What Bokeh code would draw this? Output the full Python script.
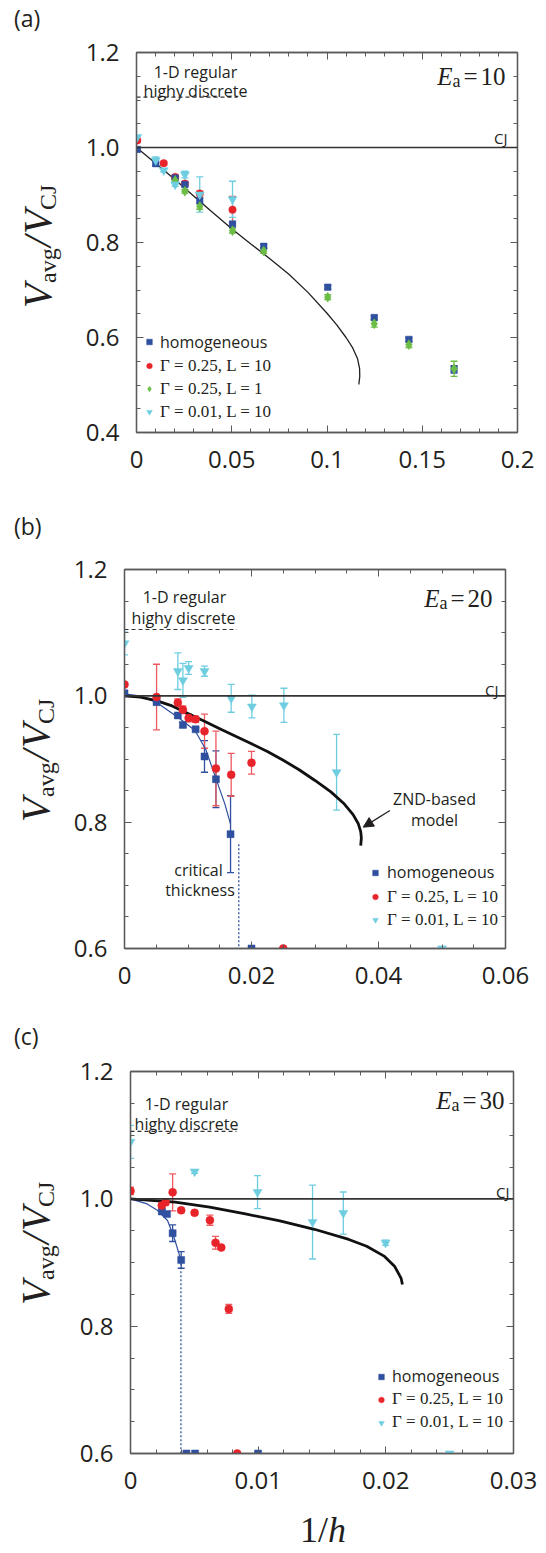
from bokeh.plotting import figure
from bokeh.layouts import column, row
from bokeh.models import (ColumnDataSource, Whisker, TeeHead, Label, Legend, LegendItem,
                          LinearAxis, FixedTicker, CustomJSTickFormatter, Range1d,
                          Arrow, NormalHead, Span, Div)
from bokeh.embed import file_html
from bokeh.resources import INLINE

# ---------------- panel (a): Ea = 10 ----------------
a_hom_x = [0.0004, 0.0101, 0.0203, 0.0254, 0.0332, 0.0504, 0.0668, 0.1004, 0.1248, 0.143, 0.1667]
a_hom_y = [0.996, 0.966, 0.936, 0.922, 0.888, 0.839, 0.792, 0.706, 0.642, 0.596, 0.533]
a_hom_e = [0.003, 0.004, 0.003, 0.003, 0.006, 0.004, 0.004, 0.004, 0.004, 0.004, 0.008]
a_red_x = [0.0004, 0.0143, 0.0203, 0.0254, 0.0332, 0.0504]
a_red_y = [1.015, 0.967, 0.938, 0.924, 0.903, 0.869]
a_red_e = [0.004, 0.004, 0.004, 0.004, 0.005, 0.028]
a_grn_x = [0.0203, 0.0254, 0.0332, 0.0504, 0.0668, 0.1004, 0.1248, 0.143, 0.1667]
a_grn_y = [0.9305, 0.908, 0.876, 0.825, 0.782, 0.685, 0.629, 0.585, 0.534]
a_grn_e = [0.004, 0.004, 0.006, 0.005, 0.005, 0.005, 0.007, 0.006, 0.016]
a_cyn_x = [0.0004, 0.0101, 0.0143, 0.0203, 0.0254, 0.0332, 0.0504]
a_cyn_y = [1.022, 0.973, 0.952, 0.922, 0.943, 0.901, 0.891]
a_cyn_e = [0.003, 0.007, 0.003, 0.004, 0.007, 0.037, 0.038]
a_znd_x = [0.0, 0.01, 0.02, 0.03, 0.04, 0.05, 0.06, 0.07, 0.08, 0.09, 0.1, 0.105, 0.11,
           0.1135, 0.116, 0.1171, 0.1172, 0.1167]
a_znd_y = [1.0, 0.967, 0.933, 0.898, 0.863, 0.829, 0.797, 0.766, 0.733, 0.695, 0.651, 0.627, 0.600,
           0.578, 0.556, 0.535, 0.518, 0.501]
a_disc_x = [0.0, 0.053]
a_disc_y = [1.106, 1.106]

# ---------------- panel (b): Ea = 20 ----------------
b_hom_x = [0.0, 0.00505, 0.0084, 0.0092, 0.0112, 0.0126, 0.0144, 0.0167, 0.02]
b_hom_y = [1.004, 0.990, 0.969, 0.954, 0.947, 0.904, 0.868, 0.781, 0.6]
b_hom_e = [0.002, 0.003, 0.003, 0.004, 0.003, 0.025, 0.045, 0.061, 0.0]
b_red_x = [0.0, 0.00505, 0.0084, 0.0092, 0.0101, 0.0112, 0.0126, 0.0144, 0.0168, 0.0200, 0.025]
b_red_y = [1.018, 0.998, 0.989, 0.978, 0.965, 0.963, 0.944, 0.885, 0.875, 0.894, 0.6]
b_red_e = [0.003, 0.052, 0.006, 0.006, 0.006, 0.005, 0.027, 0.059, 0.034, 0.018, 0.0]
b_cyn_x = [0.0, 0.0084, 0.0092, 0.0101, 0.0126, 0.0168, 0.02006, 0.0251, 0.0334, 0.05]
b_cyn_y = [1.083, 1.039, 1.0245, 1.044, 1.039, 0.996, 0.983, 0.985, 0.879, 0.6]
b_cyn_e = [0.018, 0.029, 0.027, 0.01, 0.008, 0.022, 0.018, 0.027, 0.06, 0.0]
b_fit_x = [0.0, 0.0023, 0.005, 0.0084, 0.0111, 0.0128, 0.0144, 0.0158, 0.0167]
b_fit_y = [1.003, 1.0, 0.99, 0.966, 0.945, 0.915, 0.869, 0.829, 0.797]
b_crit_x = [0.018, 0.018]
b_crit_y = [0.765, 0.6]
b_znd_x = [0.0, 0.0025, 0.005, 0.0075, 0.01, 0.0125, 0.015, 0.0175, 0.02, 0.0225, 0.025, 0.0275,
           0.03, 0.0325, 0.0345, 0.036, 0.0368, 0.0372, 0.0373, 0.0372]
b_znd_y = [1.0, 0.998, 0.9925, 0.984, 0.972, 0.960, 0.948, 0.936, 0.924, 0.912, 0.898, 0.883,
           0.866, 0.848, 0.830, 0.812, 0.798, 0.785, 0.775, 0.763]
b_disc_x = [0.0, 0.0177]
b_disc_y = [1.105, 1.105]
b_arrow = [0.0418, 0.8184, 0.0376, 0.7921]   # tail x, tail y, head x, head y

# ---------------- panel (c): Ea = 30 ----------------
c_hom_x = [0.00246, 0.00285, 0.0033, 0.00397, 0.00438, 0.00506, 0.00999]
c_hom_y = [0.980, 0.976, 0.946, 0.904, 0.6, 0.6, 0.6]
c_hom_e = [0.003, 0.003, 0.013, 0.013, 0.0, 0.0, 0.0]
c_red_x = [0.0, 0.00245, 0.00275, 0.0033, 0.00397, 0.00502, 0.00622, 0.00666, 0.00711, 0.0077, 0.00836]
c_red_y = [1.0125, 0.9895, 0.9945, 1.0102, 0.982, 0.978, 0.9665, 0.931, 0.9235, 0.827, 0.6]
c_red_e = [0.006, 0.003, 0.004, 0.029, 0.003, 0.003, 0.008, 0.01, 0.003, 0.007, 0.0]
c_cyn_x = [0.0, 0.00502, 0.00995, 0.01426, 0.01667, 0.01998, 0.025]
c_cyn_y = [1.0895, 1.0429, 1.0106, 0.9635, 0.9777, 0.931, 0.6]
c_cyn_e = [0.026, 0.003, 0.026, 0.058, 0.033, 0.004, 0.0]
c_fit_x = [0.0, 0.0013, 0.0021, 0.0029, 0.0034, 0.0038, 0.00395]
c_fit_y = [1.0, 0.992, 0.982, 0.966, 0.94, 0.914, 0.899]
c_crit_x = [0.00395, 0.00395]
c_crit_y = [0.899, 0.6]
c_znd_x = [0.0, 0.0035, 0.0062, 0.009, 0.0117, 0.0144, 0.0171, 0.0185, 0.0199, 0.0207, 0.0212, 0.0213]
c_znd_y = [1.0, 0.9947, 0.9869, 0.9762, 0.9655, 0.9522, 0.9362, 0.9256, 0.9096, 0.8936, 0.875, 0.8654]
c_disc_x = [0.0, 0.0083]
c_disc_y = [1.106, 1.106]

CJ = 1.0

# ticks
a_xmaj = [0, 0.05, 0.1, 0.15, 0.2]
a_xmin = [i * 0.01 for i in range(21)]
a_ymaj = [0.4, 0.6, 0.8, 1.0, 1.2]
a_ymin = [0.4 + i * 0.05 for i in range(17)]
b_xmaj = [0, 0.02, 0.04, 0.06]
b_xmin = [i * 0.005 for i in range(13)]
bc_ymaj = [0.6, 0.8, 1.0, 1.2]
bc_ymin = [0.6 + i * 0.05 for i in range(13)]
c_xmaj = [0, 0.01, 0.02, 0.03]
c_xmin = [i * 0.002 for i in range(16)]

LEG_HOM = "homogeneous"
LEG_R = "Γ = 0.25, L = 10"
LEG_G = "Γ = 0.25, L = 1"
LEG_C = "Γ = 0.01, L = 10"

# ---------------- styling ----------------
BLUE = "#2f4f9f"
RED = "#e8242b"
RED_ERR = "#ee5a60"
GREEN = "#6bbd45"
CYAN = "#6fcde0"
INK = "#231f20"
AXIS = "#5a5a5a"
SANS = "Open Sans"
SERIF = "Liberation Serif"
FIG_L = 60      # left border inside each figure
FIG_R = 29      # right border inside each figure

W_REG = {'.': .25, ',': .25, ' ': .25, '=': .564, 'a': .444, 'v': .5, 'g': .5,
         'C': .667, 'J': .389, '/': .278, 'h': .5}
W_IT = {'V': .611, 'E': .611, 'h': .5, '/': .278}


def adv(text, size, style):
    tbl = W_IT if style == "italic" else W_REG
    return sum(tbl.get(c, 0.5) for c in text) * size


def to_data(G, px, py):
    x = G['x0'] + (px - G['L']) / (G['R'] - G['L']) * (G['x1'] - G['x0'])
    y = G['y1'] - (py - G['T']) / (G['B'] - G['T']) * (G['y1'] - G['y0'])
    return x, y


def add_text(p, G, px, py, text, font=SANS, size=16, style="normal", align="left"):
    x, y = to_data(G, px, py)
    p.add_layout(Label(x=x, y=y, text=text, text_font=font, text_font_size=f"{size}px",
                       text_font_style=style, text_color=INK, text_align=align,
                       text_baseline="alphabetic"))


def add_rich(p, G, px, py, pieces, align="left"):
    widths = [adv(t, s, st) + g for (t, f, s, st, sh, g) in pieces]
    total = sum(widths)
    pos = px - total if align == "right" else px
    for (t, f, s, st, sh, g), w in zip(pieces, widths):
        add_text(p, G, pos, py + sh, t, f, s, st, "left")
        pos += w


def style_axis(ax):
    ax.axis_line_color = AXIS
    ax.axis_line_width = 1.3
    ax.major_tick_line_color = AXIS
    ax.major_tick_in = 7
    ax.major_tick_out = 0
    ax.minor_tick_line_color = AXIS
    ax.minor_tick_in = 4
    ax.minor_tick_out = 0
    ax.major_label_text_font = SANS
    ax.major_label_text_font_size = "24px"
    ax.major_label_text_color = INK


def make_fig(G, xmaj, xmin, ymaj, ymin):
    fw = G['R'] - G['L']
    p = figure(width=FIG_L + fw + FIG_R, height=G['H'], x_range=Range1d(G['x0'], G['x1']),
               y_range=Range1d(G['y0'], G['y1']), output_backend="svg", toolbar_location=None,
               min_border_left=FIG_L, min_border_right=FIG_R,
               min_border_top=G['T'], min_border_bottom=G['H'] - G['B'],
               background_fill_color="white", border_fill_color="white")
    try:
        p.frame_align = False
    except Exception:
        pass
    p.grid.visible = False
    p.outline_line_color = AXIS
    p.outline_line_width = 1.3
    xt = FixedTicker(ticks=xmaj, minor_ticks=xmin)
    yt = FixedTicker(ticks=ymaj, minor_ticks=ymin)
    p.xaxis.ticker = xt
    p.yaxis.ticker = yt
    p.xaxis.formatter = CustomJSTickFormatter(code="return String(Math.round(tick*1000)/1000);")
    p.yaxis.formatter = CustomJSTickFormatter(code="return tick.toFixed(1);")
    style_axis(p.xaxis[0])
    style_axis(p.yaxis[0])
    p.xaxis.major_label_standoff = 18
    p.yaxis.major_label_standoff = 17
    top = LinearAxis(ticker=xt, formatter=CustomJSTickFormatter(code="return '';"))
    right = LinearAxis(ticker=yt, formatter=CustomJSTickFormatter(code="return '';"))
    style_axis(top)
    style_axis(right)
    top.major_label_standoff = 0
    right.major_label_standoff = 0
    p.add_layout(top, "above")
    p.add_layout(right, "right")
    p.add_layout(Span(location=CJ, dimension="width", line_color="#333333", line_width=1.6))
    return p


def add_series(p, xs, ys, es, marker, size, color, err_color):
    idx = [i for i, e in enumerate(es) if e > 0]
    esrc = ColumnDataSource(dict(x=[xs[i] for i in idx],
                                 lo=[ys[i] - es[i] for i in idx],
                                 hi=[ys[i] + es[i] for i in idx]))
    p.add_layout(Whisker(source=esrc, base="x", lower="lo", upper="hi", dimension="height",
                         line_color=err_color, line_width=1.3,
                         upper_head=TeeHead(size=7, line_color=err_color, line_width=1.3),
                         lower_head=TeeHead(size=7, line_color=err_color, line_width=1.3)))
    src = ColumnDataSource(dict(x=xs, y=ys))
    return p.scatter("x", "y", source=src, marker=marker, size=size, fill_color=color,
                     line_color=color, line_width=0.5)


def add_legends(p, hom_r, others, xloc, y1, y2, standoff):
    common = dict(border_line_color=None, background_fill_alpha=0, padding=0, margin=0,
                  spacing=0, glyph_width=14, glyph_height=23, label_height=23,
                  label_standoff=standoff, label_text_color=INK)
    l1 = Legend(items=[LegendItem(label=LEG_HOM, renderers=[hom_r])], location=(xloc, y1),
                label_text_font=SANS, label_text_font_size="16px", **common)
    l2 = Legend(items=[LegendItem(label=lab, renderers=[r]) for lab, r in others],
                location=(xloc, y2), label_text_font=SERIF, label_text_font_size="17px", **common)
    p.add_layout(l1)
    p.add_layout(l2)


def add_ea(p, G, right_px, base_py, num):
    add_rich(p, G, right_px, base_py, [
        ("E", SERIF, 25, "italic", 0, 0),
        ("a", SERIF, 18, "normal", 4, 3),
        ("=", SERIF, 25, "normal", 0, 3),
        (num, SERIF, 25, "normal", 0, 0),
    ], align="right")


# y-axis title pieces: text, font size, italic, shift toward the right, offset of start upward
YLAB = [("V", 40, True, 0, 0.0), ("avg", 24, False, 5, 25.0), ("/", 40, True, 0, 61.2),
        ("V", 40, True, 0, 73.8), ("CJ", 24, False, 5, 98.2)]


def side_div(G, tag, tag_base, ylab_x, ylab_y):
    """Panel tag and rotated y-axis title, drawn left of the figure."""
    w = G['L'] - FIG_L
    h = G['H']
    parts = [f'<div style="position:relative;width:{w}px;height:{h}px;margin:0;padding:0;">',
             f'<span style="position:absolute;left:14px;top:{tag_base - 20.4:.1f}px;'
             f'font-family:\'Open Sans\';font-size:23px;line-height:1;color:{INK};'
             f'white-space:nowrap;">{tag}</span>']
    for txt, size, ital, shift, off in YLAB:
        left = ylab_x + shift - 0.8375 * size
        top = ylab_y - off
        style = "italic" if ital else "normal"
        parts.append(
            f'<span style="position:absolute;left:{left:.1f}px;top:{top:.1f}px;'
            f'transform-origin:0 0;transform:rotate(-90deg);font-family:\'Liberation Serif\';'
            f'font-size:{size}px;font-style:{style};line-height:1;color:{INK};'
            f'white-space:nowrap;">{txt}</span>')
    parts.append('</div>')
    return Div(text="".join(parts), width=w, height=h, margin=0)


# ================= panel (a) =================
GA = dict(L=136, R=517, T=52, B=432, H=515, x0=0.0, x1=0.2, y0=0.4, y1=1.2)
pa = make_fig(GA, a_xmaj, a_xmin, a_ymaj, a_ymin)
pa.line(a_znd_x, a_znd_y, line_color=INK, line_width=1.3)
pa.line(a_disc_x, a_disc_y, line_color="#333333", line_width=1.2, line_dash="4 3")
ra = add_series(pa, a_red_x, a_red_y, a_red_e, "circle", 7.5, RED, RED_ERR)
ba = add_series(pa, a_hom_x, a_hom_y, a_hom_e, "square", 6.5, BLUE, BLUE)
ga = add_series(pa, a_grn_x, a_grn_y, a_grn_e, "diamond", 10, GREEN, GREEN)
ca = add_series(pa, a_cyn_x, a_cyn_y, a_cyn_e, "inverted_triangle", 9, CYAN, CYAN)
add_legends(pa, ba, [(LEG_R, ra), (LEG_G, ga), (LEG_C, ca)], 6, 79, 9, 4)
add_ea(pa, GA, 505, 76, "10")
add_text(pa, GA, 507, 137, "CJ", SANS, 15, align="right")
add_text(pa, GA, 195, 71, "1-D regular", SANS, 16, align="center")
add_text(pa, GA, 195, 90, "highy discrete", SANS, 16, align="center")
da = side_div(GA, "(a)", 27, 51, 308)

# ================= panel (b) =================
GB = dict(L=124, R=505, T=54, B=433, H=505, x0=0.0, x1=0.06, y0=0.6, y1=1.2)
pb = make_fig(GB, b_xmaj, b_xmin, bc_ymaj, bc_ymin)
pb.line(b_fit_x, b_fit_y, line_color=BLUE, line_width=1.2)
pb.line(b_crit_x, b_crit_y, line_color=BLUE, line_width=1.3, line_dash="2 2")
pb.line(b_znd_x, b_znd_y, line_color="#111111", line_width=2.8)
pb.line(b_disc_x, b_disc_y, line_color="#333333", line_width=1.2, line_dash="4 3")
bb = add_series(pb, b_hom_x, b_hom_y, b_hom_e, "square", 7, BLUE, BLUE)
rb = add_series(pb, b_red_x, b_red_y, b_red_e, "circle", 8, RED, RED_ERR)
cb = add_series(pb, b_cyn_x, b_cyn_y, b_cyn_e, "inverted_triangle", 9, CYAN, CYAN)
pb.add_layout(Arrow(end=NormalHead(size=10, fill_color=INK, line_color=INK),
                    x_start=b_arrow[0], y_start=b_arrow[1], x_end=b_arrow[2], y_end=b_arrow[3],
                    line_color=INK, line_width=1.3))
add_legends(pb, bb, [(LEG_R, rb), (LEG_C, cb)], 244, 64.5, 17, 5)
add_ea(pb, GB, 492, 83, "20")
add_text(pb, GB, 498, 174.5, "CJ", SANS, 15, align="right")
add_text(pb, GB, 184, 81.5, "1-D regular", SANS, 16, align="center")
add_text(pb, GB, 183, 102, "highy discrete", SANS, 16, align="center")
add_text(pb, GB, 434, 283.5, "ZND-based", SANS, 16, align="center")
add_text(pb, GB, 434, 304.7, "model", SANS, 16, align="center")
add_text(pb, GB, 198, 354, "critical", SANS, 16, align="center")
add_text(pb, GB, 199.5, 374, "thickness", SANS, 16, align="center")
db = side_div(GB, "(b)", 20, 49, 307)

# ================= panel (c) =================
GC = dict(L=130, R=513, T=51, B=433, H=490, x0=0.0, x1=0.03, y0=0.6, y1=1.2)
pc = make_fig(GC, c_xmaj, c_xmin, bc_ymaj, bc_ymin)
pc.line(c_fit_x, c_fit_y, line_color=BLUE, line_width=1.2)
pc.line(c_crit_x, c_crit_y, line_color=BLUE, line_width=1.3, line_dash="2 2")
pc.line(c_znd_x, c_znd_y, line_color="#111111", line_width=2.8)
pc.line(c_disc_x, c_disc_y, line_color="#333333", line_width=1.2, line_dash="4 3")
bc = add_series(pc, c_hom_x, c_hom_y, c_hom_e, "square", 7, BLUE, BLUE)
rc = add_series(pc, c_red_x, c_red_y, c_red_e, "circle", 8, RED, RED_ERR)
cc = add_series(pc, c_cyn_x, c_cyn_y, c_cyn_e, "inverted_triangle", 9, CYAN, CYAN)
add_legends(pc, bc, [(LEG_R, rc), (LEG_C, cc)], 244, 65.5, 19.5, 4)
add_ea(pc, GC, 504, 80, "30")
add_text(pc, GC, 509, 171, "CJ", SANS, 15, align="right")
add_text(pc, GC, 186, 83, "1-D regular", SANS, 16, align="center")
add_text(pc, GC, 186, 103.4, "highy discrete", SANS, 16, align="center")
dc = side_div(GC, "(c)", 25.5, 49, 285)

# x-axis title under panel (c)
xlab = Div(text=(f'<div style="position:relative;width:546px;height:43px;margin:0;padding:0;">'
                 f'<span style="position:absolute;left:300px;top:1.8px;'
                 f'font-family:\'Liberation Serif\';font-size:36px;line-height:1;color:{INK};'
                 f'white-space:nowrap;">1/<i>h</i></span></div>'),
           width=546, height=43, margin=0)

layout = column(row(da, pa, spacing=0), row(db, pb, spacing=0), row(dc, pc, spacing=0), xlab,
                spacing=0)
open("out.html", "w").write(file_html(layout, INLINE))
